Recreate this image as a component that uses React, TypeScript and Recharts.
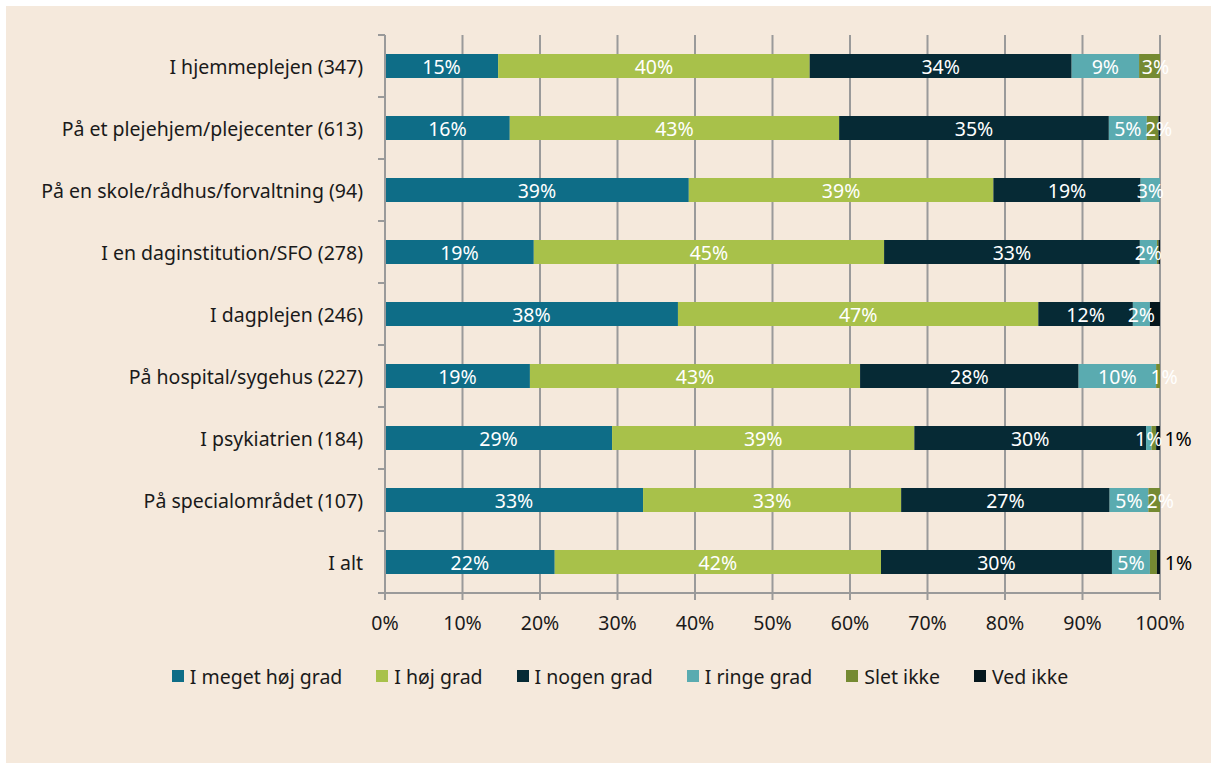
import { BarChart, Bar, XAxis, YAxis, CartesianGrid, LabelList } from "recharts";

const categories = [
  "I hjemmeplejen (347)",
  "På et plejehjem/plejecenter (613)",
  "På en skole/rådhus/forvaltning (94)",
  "I en daginstitution/SFO (278)",
  "I dagplejen (246)",
  "På hospital/sygehus (227)",
  "I psykiatrien (184)",
  "På specialområdet (107)",
  "I alt",
];

const megetHoj = [14.6, 16.1, 39.2, 19.2, 37.8, 18.7, 29.3, 33.3, 21.9];
const hoj = [40.2, 42.5, 39.3, 45.2, 46.5, 42.6, 39.0, 33.3, 42.1];
const nogen = [33.8, 34.8, 19.0, 33.0, 12.2, 28.2, 29.9, 26.9, 29.8];
const ringe = [8.7, 4.9, 2.5, 2.2, 2.2, 10.0, 0.7, 5.0, 4.9];
const sletIkke = [2.7, 1.5, 0, 0.2, 0, 0.5, 0.6, 1.5, 0.9];
const vedIkke = [0, 0.2, 0, 0.2, 1.3, 0, 0.5, 0, 0.4];

// labels of the two thin series as printed in the source
const sletLabels = ["3%", "2%", "", "", "", "1%", "", "2%", ""];
const vedLabels = ["", "", "", "", "", "", "1%", "", "1%"];

const xTicks = [0, 10, 20, 30, 40, 50, 60, 70, 80, 90, 100];

const pct = (v: number) => (Math.round(v) >= 1 ? `${Math.round(v)}%` : "");

const data = categories.map((name, i) => ({
  name,
  meget: megetHoj[i],
  hoj: hoj[i],
  nogen: nogen[i],
  ringe: ringe[i],
  slet: sletIkke[i],
  ved: vedIkke[i],
  megetLabel: pct(megetHoj[i]),
  hojLabel: pct(hoj[i]),
  nogenLabel: pct(nogen[i]),
  ringeLabel: pct(ringe[i]),
  sletLabel: sletLabels[i],
  vedLabel: vedLabels[i],
}));

const SERIES = [
  { key: "meget", name: "I meget høj grad", color: "#0e6d87" },
  { key: "hoj", name: "I høj grad", color: "#a8c14a" },
  { key: "nogen", name: "I nogen grad", color: "#062a35" },
  { key: "ringe", name: "I ringe grad", color: "#5aabb0" },
  { key: "slet", name: "Slet ikke", color: "#758a32" },
  { key: "ved", name: "Ved ikke", color: "#05161c" },
];

const FONT = "'Noto Sans', 'Open Sans', sans-serif";
const FS = 19.5;
const GRAY = "#9a9a9a";
const W = 1205;
const H = 757;
const TOP = 29;
const BOTTOM = 130;
const X_AXIS_H = 40;
const BAND_HALF = (H - TOP - BOTTOM - X_AXIS_H) / categories.length / 2;

const CategoryTick = (props: any) => {
  const { x, y, payload, index } = props;
  return (
    <g>
      <text x={x - 22} y={y} textAnchor="end" dominantBaseline="central" fill="#1a1a1a" style={{ fontSize: FS, fontFamily: FONT }}>
        {payload.value}
      </text>
      <line x1={x - 7} x2={x} y1={y - BAND_HALF} y2={y - BAND_HALF} stroke={GRAY} strokeWidth={2} />
      {index === categories.length - 1 && (
        <line x1={x - 7} x2={x} y1={y + BAND_HALF} y2={y + BAND_HALF} stroke={GRAY} strokeWidth={2} />
      )}
    </g>
  );
};

const makeLabel = (color: string, shift = 0) => (props: any) => {
  const { x, y, width, height, value } = props;
  if (!value) return null;
  return (
    <text x={x + width / 2 + shift} y={y + height / 2} textAnchor="middle" dominantBaseline="central" fill={color} style={{ fontSize: FS, fontFamily: FONT }}>
      {value}
    </text>
  );
};

const ChartLegend = () => (
  <div
    style={{
      position: "absolute",
      top: 656,
      left: 0,
      width: W,
      height: 28,
      display: "flex",
      alignItems: "center",
      justifyContent: "center",
      gap: 34,
      fontFamily: FONT,
      fontSize: FS,
      color: "#1a1a1a",
      paddingLeft: 23,
      boxSizing: "border-box",
    }}
  >
    {SERIES.map((s) => (
      <div key={s.key} style={{ display: "flex", alignItems: "center", gap: 6 }}>
        <div style={{ width: 12, height: 12, background: s.color }} />
        <span>{s.name}</span>
      </div>
    ))}
  </div>
);

export default function App() {
  return (
    <div style={{ position: "absolute", left: 6, top: 6, width: W, height: H, background: "#f5e9dc" }}>
      <BarChart width={W} height={H} data={data} layout="vertical" margin={{ top: TOP, right: 51, bottom: BOTTOM, left: 0 }} barSize={24}>
        <CartesianGrid vertical horizontal={false} stroke={GRAY} strokeWidth={2} />
        <XAxis
          type="number"
          domain={[0, 100]}
          ticks={xTicks}
          allowDataOverflow
          tickFormatter={(v) => `${v}%`}
          height={X_AXIS_H}
          tickSize={7}
          tickMargin={16}
          axisLine={{ stroke: GRAY, strokeWidth: 2 }}
          tickLine={{ stroke: GRAY, strokeWidth: 2 }}
          tick={{ fill: "#1a1a1a", fontSize: FS, fontFamily: FONT }}
        />
        <YAxis
          type="category"
          dataKey="name"
          width={379}
          tickSize={0}
          tickMargin={0}
          tickLine={false}
          axisLine={{ stroke: GRAY, strokeWidth: 2 }}
          tick={CategoryTick as never}
          interval={0}
        />
        {SERIES.map((s) => (
          <Bar key={s.key} dataKey={s.key} name={s.name} stackId="a" fill={s.color} isAnimationActive={false}>
            <LabelList
              dataKey={`${s.key}Label`}
              content={s.key === "ved" ? makeLabel("#000000", 20) : s.key === "slet" ? makeLabel("#ffffff", 6) : makeLabel("#ffffff")}
            />
          </Bar>
        ))}
      </BarChart>
      <ChartLegend />
    </div>
  );
}
